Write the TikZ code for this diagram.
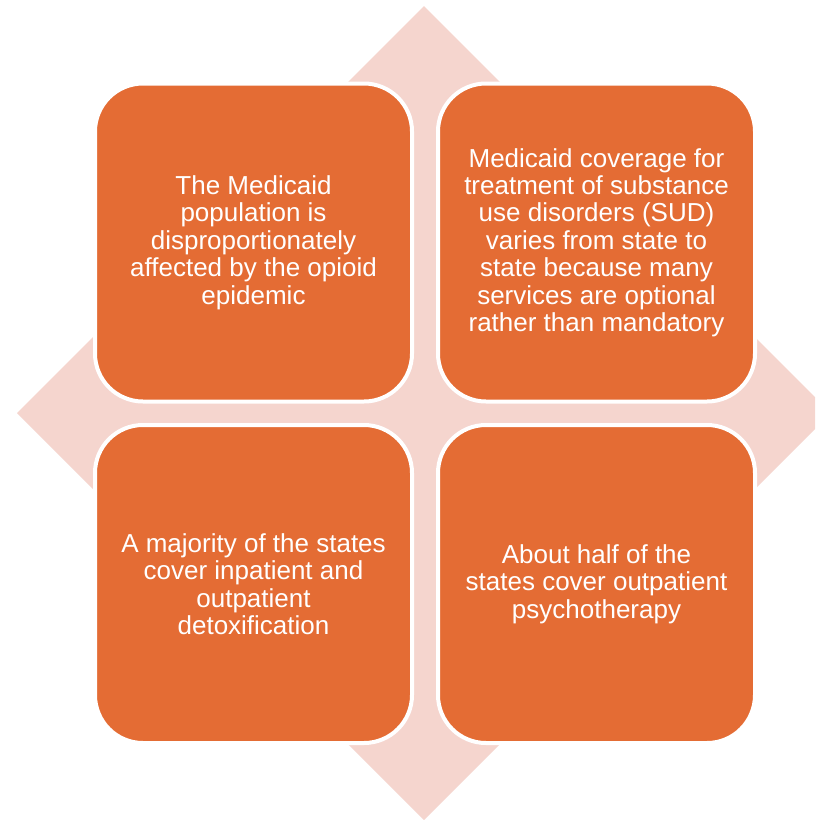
\documentclass[tikz,border=0pt]{standalone}
\usepackage{fontspec}
\setmainfont{Liberation Sans}
\definecolor{tileorange}{RGB}{228,108,52}
\definecolor{diamondpink}{RGB}{245,213,206}
\begin{document}
\begin{tikzpicture}[x=1pt,y=-1pt,
  tile/.style={draw=white, line width=4pt, fill=tileorange, rounded corners=48pt,
    minimum width=317pt, minimum height=318pt, inner sep=0pt,
    text=white, align=center, font=\fontsize{26}{27.4}\selectfont}]
  % canvas
  \fill[white] (0,0) rectangle (815,820);
  \useasboundingbox (0,0) rectangle (815,820);
  % background diamond, cut off at the page edge
  \begin{scope}
    \clip (0,0) rectangle (815,820);
    \fill[diamondpink] (424,6) -- (831,413) -- (424,820) -- (17,413) -- cycle;
  \end{scope}
  % four tiles
  \node[tile] (tl) at (253.5,242.5) {The Medicaid\\population is\\disproportionately\\affected by the opioid\\epidemic};
  \node[tile] (tr) at (596.5,242.5) {Medicaid coverage for\\treatment of substance\\use disorders (SUD)\\varies from state to\\state because many\\services are optional\\rather than mandatory};
  \node[tile] (bl) at (253.5,584) {A majority of the states\\cover inpatient and\\outpatient\\detoxification};
  \node[tile] (br) at (596.5,584) {About half of the\\states cover outpatient\\psychotherapy};
\end{tikzpicture}
\end{document}
